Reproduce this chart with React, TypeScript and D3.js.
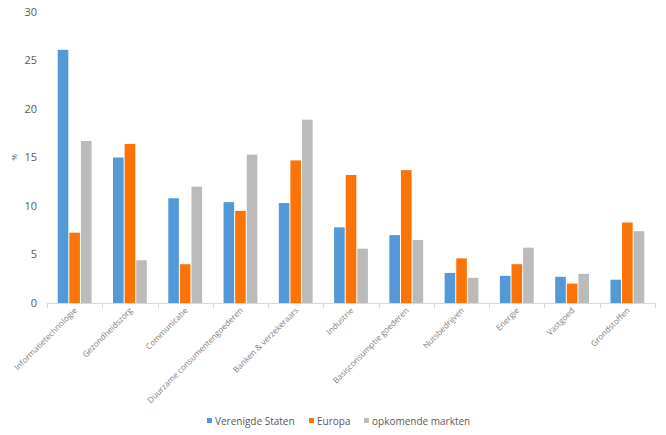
import * as d3 from "d3";

const categories = [
  "Informatietechnologie",
  "Gezondheidszorg",
  "Communicatie",
  "Duurzame consumentengoederen",
  "Banken & verzekeraars",
  "Industrie",
  "Basisconsumptie goederen",
  "Nutsbedrijven",
  "Energie",
  "Vastgoed",
  "Grondstoffen",
];

const seriesNames = ["Verenigde Staten", "Europa", "opkomende markten"];
const us = [26.1, 15.0, 10.8, 10.4, 10.3, 7.8, 7.0, 3.1, 2.8, 2.7, 2.4];
const europe = [7.25, 16.4, 4.0, 9.5, 14.7, 13.2, 13.7, 4.6, 4.0, 2.0, 8.3];
const emerging = [16.7, 4.4, 12.0, 15.3, 18.9, 5.6, 6.5, 2.6, 5.7, 3.0, 7.4];
const yTicks = [0, 5, 10, 15, 20, 25, 30];

const colors = ["#5399d8", "#fc7307", "#bbbbbb"];
const series = [us, europe, emerging];

const W = 666;
const H = 435;
const font = "'Open Sans', 'Noto Sans', sans-serif";

export default function App() {
  const x0 = d3.scaleBand().domain(categories).range([47, 655]).padding(0);
  const bw = x0.bandwidth();
  const x1 = d3
    .scaleBand()
    .domain(seriesNames)
    .range([bw * 0.185, bw * 0.815])
    .padding(0);
  const y = d3.scaleLinear().domain([0, 30]).range([303, 12]);

  const legendX = [207, 309, 364];

  return (
    <svg
      width={W}
      height={H}
      style={{ position: "absolute", left: 0, top: 0, background: "#fff" }}
      fontFamily={font}
    >
      {/* y labels */}
      {yTicks.map((t) => (
        <text
          key={`yt-${t}`}
          x={37}
          y={y(t)}
          dy="0.35em"
          textAnchor="end"
          fontSize={11}
          fill="#595959"
        >
          {t}
        </text>
      ))}
      <text
        transform={`translate(17,${y(15)}) rotate(-90)`}
        textAnchor="middle"
        fontSize={8}
        fill="#595959"
      >
        %
      </text>

      {/* bars */}
      {categories.map((c, i) => (
        <g key={`g-${c}`} transform={`translate(${x0(c)},0)`}>
          {seriesNames.map((s, j) => (
            <rect
              key={`r-${c}-${s}`}
              x={(x1(s) as number) + 0.5}
              y={y(series[j][i])}
              width={x1.bandwidth() - 1}
              height={y(0) - y(series[j][i])}
              fill={colors[j]}
            />
          ))}
        </g>
      ))}

      {/* axis */}
      <line x1={47} x2={655} y1={303.5} y2={303.5} stroke="#d9d9d9" />
      {d3.range(categories.length + 1).map((k) => {
        const xx = Math.round(47 + k * bw) + 0.5;
        return (
          <line
            key={`tk-${k}`}
            x1={xx}
            x2={xx}
            y1={303}
            y2={308}
            stroke="#d9d9d9"
          />
        );
      })}

      {/* category labels */}
      {categories.map((c) => {
        const cx = (x0(c) as number) + bw / 2 + 3;
        return (
          <text
            key={`cl-${c}`}
            transform={`translate(${cx},311) rotate(-45)`}
            textAnchor="end"
            fontSize={8.2}
            fill="#7f7f7f"
          >
            {c}
          </text>
        );
      })}

      {/* legend */}
      {seriesNames.map((s, j) => (
        <g key={`lg-${s}`} transform={`translate(${legendX[j]},421)`}>
          <rect x={0} y={-3} width={5} height={5} fill={colors[j]} />
          <text x={8} y={0} dy="0.35em" fontSize={10} fill="#595959">
            {s}
          </text>
        </g>
      ))}
    </svg>
  );
}
